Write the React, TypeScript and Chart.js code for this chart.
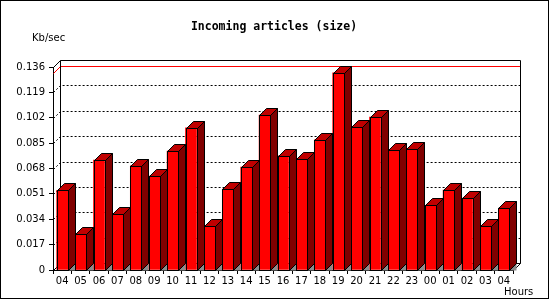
import React, { useEffect, useRef } from "react";
import { Chart, registerables } from "chart.js";

Chart.register(...registerables);

const hours = ["04","05","06","07","08","09","10","11","12","13","14","15","16","17","18","19","20","21","22","23","00","01","02","03","04"];
const sizeKbps = [0.0533,0.0240,0.0737,0.0374,0.0698,0.0629,0.0797,0.0952,0.0293,0.0542,0.0690,0.1038,0.0765,0.0744,0.0872,0.1321,0.0958,0.1025,0.0804,0.0813,0.0434,0.0535,0.0481,0.0293,0.0414];
const yTicks = [0,0.017,0.034,0.051,0.068,0.085,0.102,0.119,0.136];
const yMax = 0.136;
const titleText = "Incoming articles (size)";
const yUnit = "Kb/sec";
const xUnit = "Hours";

const DEPTH = 7;

const threeD = {
  id: "threeD",
  beforeDatasetsDraw(chart: any) {
    const { ctx, chartArea: a, scales } = chart;
    const y = scales.y;
    const L = Math.round(a.left) + 0.5;
    const R = Math.round(a.right) + 0.5;
    const B = Math.round(a.bottom) + 0.5;
    const T = Math.round(y.getPixelForValue(yMax)) + 0.5;
    ctx.save();
    ctx.lineWidth = 1;
    ctx.strokeStyle = "#000";
    // dotted grid on left wall + back wall
    ctx.setLineDash([2, 2]);
    yTicks.forEach((v) => {
      if (v === 0 || v === yMax) return;
      const py = Math.round(y.getPixelForValue(v)) + 0.5;
      ctx.beginPath();
      ctx.moveTo(L, py);
      ctx.lineTo(L + DEPTH, py - DEPTH);
      ctx.lineTo(R + DEPTH, py - DEPTH);
      ctx.stroke();
    });
    ctx.setLineDash([]);
    // max value line (red)
    const maxV = Math.max(...sizeKbps);
    const pm = Math.round(y.getPixelForValue(maxV)) + 0.5;
    ctx.strokeStyle = "#ff0000";
    ctx.beginPath();
    ctx.moveTo(L, pm);
    ctx.lineTo(L + DEPTH, pm - DEPTH);
    ctx.lineTo(R + DEPTH, pm - DEPTH);
    ctx.stroke();
    // frame of back wall and floor
    ctx.strokeStyle = "#000";
    ctx.beginPath();
    ctx.moveTo(L, T);
    ctx.lineTo(L + DEPTH, T - DEPTH);
    ctx.lineTo(R + DEPTH, T - DEPTH);
    ctx.lineTo(R + DEPTH, B - DEPTH);
    ctx.lineTo(R, B);
    ctx.moveTo(L + DEPTH, T - DEPTH);
    ctx.lineTo(L + DEPTH, B - DEPTH);
    ctx.lineTo(R + DEPTH, B - DEPTH);
    ctx.moveTo(L, B);
    ctx.lineTo(L + DEPTH, B - DEPTH);
    ctx.stroke();
    ctx.restore();
  },
  afterDatasetsDraw(chart: any) {
    const { ctx } = chart;
    const meta = chart.getDatasetMeta(0);
    ctx.save();
    ctx.lineWidth = 1;
    ctx.strokeStyle = "#000";
    meta.data.forEach((el: any) => {
      const p = el.getProps(["x", "y", "base", "width"], true);
      const l = Math.round(p.x - p.width / 2) + 0.5;
      const r = Math.round(p.x + p.width / 2) + 0.5;
      const t = Math.round(p.y) + 0.5;
      const b = Math.round(p.base) + 0.5;
      const d = DEPTH;
      // floor shadow
      ctx.fillStyle = "#8c8c8c";
      ctx.beginPath();
      ctx.moveTo(r, b);
      ctx.lineTo(r + d, b - d);
      ctx.lineTo(r + d, b);
      ctx.closePath();
      ctx.fill();
      // top face
      ctx.fillStyle = "#c00000";
      ctx.beginPath();
      ctx.moveTo(l, t);
      ctx.lineTo(l + d, t - d);
      ctx.lineTo(r + d, t - d);
      ctx.lineTo(r, t);
      ctx.closePath();
      ctx.fill();
      ctx.stroke();
      // side face
      ctx.fillStyle = "#800000";
      ctx.beginPath();
      ctx.moveTo(r, t);
      ctx.lineTo(r + d, t - d);
      ctx.lineTo(r + d, b - d);
      ctx.lineTo(r, b);
      ctx.closePath();
      ctx.fill();
      ctx.stroke();
      // front outline
      ctx.strokeRect(l, t, r - l, b - t);
    });
    ctx.restore();
  },
  afterDraw(chart: any) {
    const { ctx } = chart;
    ctx.save();
    ctx.fillStyle = "#000";
    ctx.textBaseline = "middle";
    ctx.textAlign = "center";
    ctx.font = 'bold 11.5px "DejaVu Sans Mono"';
    ctx.fillText(titleText, 274, 27);
    ctx.textAlign = "left";
    ctx.font = '10px "DejaVu Sans"';
    ctx.fillText(yUnit, 32, 38);
    ctx.fillText(xUnit, 504, 292);
    ctx.strokeStyle = "#000";
    ctx.lineWidth = 1;
    ctx.strokeRect(0.5, 0.5, 548, 298);
    ctx.restore();
  },
};

export default function App() {
  const ref = useRef<HTMLCanvasElement>(null);
  useEffect(() => {
    if (!ref.current) return;
    const chart = new Chart(ref.current, {
      type: "bar",
      data: {
        labels: hours,
        datasets: [
          {
            data: sizeKbps,
            backgroundColor: "#ff0000",
            borderWidth: 0,
            barThickness: 11,
          },
        ],
      },
      options: {
        animation: false,
        responsive: false,
        layout: { padding: { left: 0, top: 67, right: 37, bottom: 0 } },
        plugins: { legend: { display: false }, tooltip: { enabled: false }, title: { display: false } },
        scales: {
          x: {
            offset: true,
            grid: { drawOnChartArea: false, drawTicks: true, tickLength: 4, color: "#000", offset: true },
            border: { display: true, color: "#000" },
            ticks: { color: "#000", font: { family: "DejaVu Sans", size: 10 }, padding: 1, maxRotation: 0, autoSkip: false },
            afterFit: (s: any) => { s.height = 30; },
          },
          y: {
            min: 0,
            max: yMax,
            grid: { drawOnChartArea: false, drawTicks: true, tickLength: 4, color: "#000" },
            border: { display: true, color: "#000" },
            ticks: {
              color: "#000",
              font: { family: "DejaVu Sans", size: 10 },
              padding: 4,
              callback: (v: any) => (Number(v) === 0 ? "0" : Number(v).toFixed(3)),
            },
            afterBuildTicks: (s: any) => { s.ticks = yTicks.map((v) => ({ value: v })); },
            afterFit: (s: any) => { s.width = 53; },
          },
        },
      },
      plugins: [threeD],
    });
    return () => chart.destroy();
  }, []);
  return (
    <div style={{ position: "fixed", left: 0, top: 0, width: 550, height: 300, background: "#fff" }}>
      <canvas ref={ref} width={550} height={300} style={{ width: 550, height: 300, display: "block" }} />
    </div>
  );
}
